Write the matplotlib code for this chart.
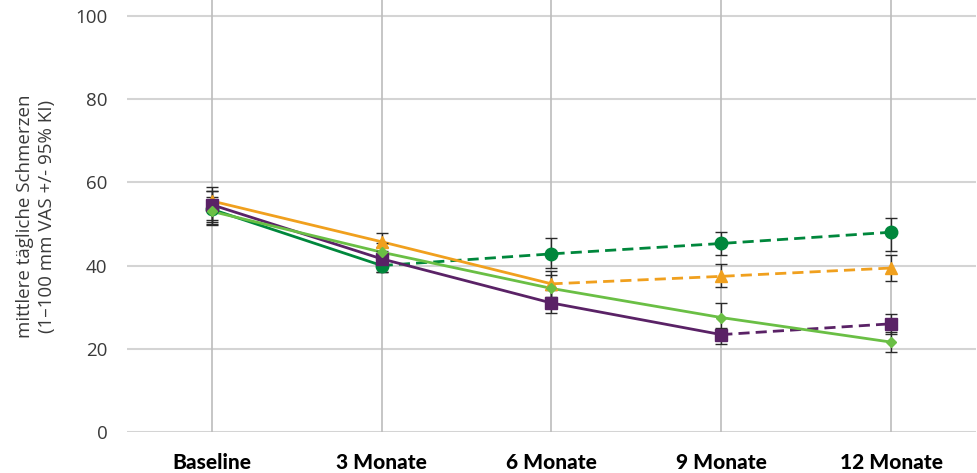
import matplotlib
matplotlib.use("Agg")
import matplotlib.pyplot as plt

# Kategorien
kategorien = ["Baseline", "3 Monate", "6 Monate", "9 Monate", "12 Monate"]

# Mittelwerte und 95%-KI je Gruppe
gruen_dunkel = [53.5, 40.0, 42.8, 45.3, 48.0]
gruen_dunkel_lo = [49.8, 38.5, 39.4, 42.6, 43.5]
gruen_dunkel_hi = [57.9, 42.0, 46.6, 48.0, 51.5]

orange = [55.5, 45.7, 35.6, 37.4, 39.4]
orange_lo = [50.5, 43.5, 32.5, 34.9, 36.3]
orange_hi = [58.9, 47.8, 38.7, 40.4, 42.5]

lila = [54.6, 41.6, 31.0, 23.4, 26.0]
lila_lo = [51.0, 38.5, 28.6, 21.2, 23.5]
lila_hi = [58.0, 44.5, 34.0, 25.0, 28.4]

gruen_hell = [53.0, 43.2, 34.5, 27.5, 21.6]
gruen_hell_lo = [50.0, 40.5, 31.5, 24.5, 19.2]
gruen_hell_hi = [56.5, 45.5, 37.7, 31.0, 24.0]

# (werte, lo, hi, farbe, marker, markergroesse, index ab dem gestrichelt)
serien = [
    (gruen_dunkel, gruen_dunkel_lo, gruen_dunkel_hi, "#00873c", "o", 9, 1),
    (orange, orange_lo, orange_hi, "#f0a01e", "^", 9, 2),
    (lila, lila_lo, lila_hi, "#5a2266", "s", 9, 3),
    (gruen_hell, gruen_hell_lo, gruen_hell_hi, "#6abf45", "D", 5.5, 4),
]

fig = plt.figure(figsize=(9.78, 4.73), dpi=100)
ax = fig.add_axes([127 / 978, 41 / 473, 849 / 978, 432 / 473])

x = list(range(len(kategorien)))

# Gitter
for yy in range(0, 101, 20):
    ax.axhline(yy, color="#d4d4d4", lw=1.5, zorder=0)
for xx in x:
    ax.axvline(xx, color="#bcbcbc", lw=1.2, zorder=0)

for werte, lo, hi, farbe, marker, ms, k in serien:
    ax.plot(x[:k + 1], werte[:k + 1], color=farbe, lw=2, solid_capstyle="round", zorder=2)
    if k < len(x) - 1:
        ax.plot(x[k:], werte[k:], color=farbe, lw=2, ls=(0, (4, 2.2)), zorder=2)
    fehler = [[w - l for w, l in zip(werte, lo)], [h - w for w, h in zip(werte, hi)]]
    ax.errorbar(x, werte, yerr=fehler, fmt="none", ecolor="#2a2a2a",
                elinewidth=1.0, capsize=4, capthick=1.0, zorder=3)
    ax.plot(x, werte, ls="none", marker=marker, ms=ms, color=farbe,
            markeredgecolor=farbe, zorder=4)

ax.set_xlim(-0.5, 4.5)
ax.set_ylim(0, 103.8)
ax.set_yticks(range(0, 101, 20))
ax.set_xticks(x)
ax.set_xticklabels(kategorien, fontfamily="Lato", fontweight="black", fontsize=15)
ax.tick_params(axis="x", length=0, pad=15)
ax.tick_params(axis="y", length=0, pad=14, labelsize=13.5, labelcolor="#3a3a3a")
for lab in ax.get_yticklabels():
    lab.set_fontfamily("Open Sans")
for s in ax.spines.values():
    s.set_visible(False)

ax.set_ylabel("mittlere tägliche Schmerzen\n(1–100 mm VAS +/- 95% KI)",
              fontfamily="Open Sans", fontsize=13.5, color="#3a3a3a", labelpad=14,
              linespacing=1.25)

fig.savefig("out.png", dpi=100)
